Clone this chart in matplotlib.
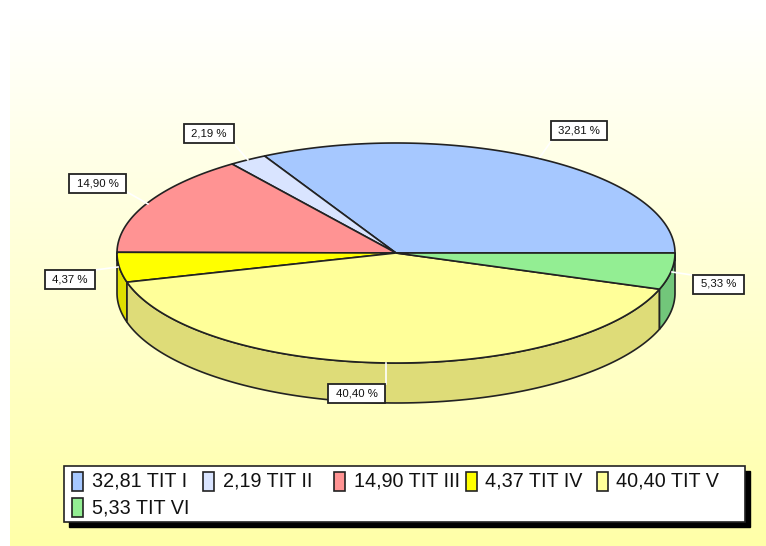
import numpy as np
import matplotlib
matplotlib.use("Agg")
import matplotlib.pyplot as plt
from matplotlib.patches import Polygon, Rectangle
from matplotlib.colors import LinearSegmentedColormap

# ---- data
names = ["TIT I", "TIT II", "TIT III", "TIT IV", "TIT V", "TIT VI"]
values = [32.81, 2.19, 14.90, 4.37, 40.40, 5.33]
value_labels = ["32,81", "2,19", "14,90", "4,37", "40,40", "5,33"]
top_colors = ["#A6C8FF", "#D9E4FF", "#FF9393", "#FFFF00", "#FFFF99", "#93EE93"]
side_colors = ["#8AA6D4", "#B5BED4", "#D47A7A", "#DEDE00", "#DEDC78", "#72C67A"]

# ---- layout (pixels)
W, H = 766, 546
cx, cy, rx, ry, depth = 396, 253, 279, 110, 40
label_pos = [(579, 130.5), (209, 133.5), (97.5, 183.5), (70, 279.5), (356.5, 393.5), (718.5, 284)]
label_w = [56, 50, 57, 50, 57, 51]
label_h = 19
leader_start = [(552, 140), (235, 145), (127, 192), (95, 270), (386, 384), (692, 275)]
leader_end = [(540, 157), (248, 160), (148, 204), (118, 267), (386, 363), (672, 272)]
EDGE = "#222222"

fig = plt.figure(figsize=(W / 100, H / 100), dpi=100)
fig.patch.set_facecolor("white")
ax = fig.add_axes([0, 0, 1, 1])
ax.set_xlim(0, W)
ax.set_ylim(H, 0)
ax.axis("off")

# background gradient panel
cmap = LinearSegmentedColormap.from_list("bg", ["#FFFFFF", "#FFFFA8"])
grad = np.linspace(0, 1, 256).reshape(-1, 1)
ax.imshow(grad, extent=[10, W, H, 12], cmap=cmap, aspect="auto", zorder=0)
ax.set_xlim(0, W)
ax.set_ylim(H, 0)


def ell(t, dy=0.0):
    return np.column_stack([cx + rx * np.cos(t), cy - ry * np.sin(t) + dy])


edges = np.radians(np.concatenate([[0], np.cumsum(values)]) * 3.6)

# side wall: front half only, drawn from the rim
for i in range(len(values)):
    a = max(edges[i], np.pi)
    b = min(edges[i + 1], 2 * np.pi)
    if b > a:
        t = np.linspace(a, b, 120)
        pts = np.vstack([ell(t), ell(t[::-1], depth)])
        ax.add_patch(Polygon(pts, closed=True, fc=side_colors[i], ec=EDGE, lw=1.2, zorder=2))

# top faces
for i in range(len(values)):
    t = np.linspace(edges[i], edges[i + 1], 200)
    pts = np.vstack([[cx, cy], ell(t)])
    ax.add_patch(Polygon(pts, closed=True, fc=top_colors[i], ec=EDGE, lw=1.2, zorder=3))

# leader lines and labels
for i, v in enumerate(value_labels):
    ax.plot([leader_start[i][0], leader_end[i][0]], [leader_start[i][1], leader_end[i][1]],
            color="white", lw=1.2, zorder=4)
    bx, by = label_pos[i]
    ax.add_patch(Rectangle((bx - label_w[i] / 2, by - label_h / 2), label_w[i], label_h,
                           fc="white", ec="#222222", lw=1.3, zorder=5))
    ax.text(bx, by, v + " %", fontsize=8.2, family="Liberation Sans",
            ha="center", va="center", color="#111111", zorder=6)

# legend
lx0, ly0, lx1, ly1 = 64, 466, 745, 522
ax.add_patch(Rectangle((lx0 + 5, ly0 + 5), lx1 - lx0, ly1 - ly0, fc="black", ec="black", zorder=6))
ax.add_patch(Rectangle((lx0, ly0), lx1 - lx0, ly1 - ly0, fc="white", ec="#222222", lw=1.2, zorder=7))
col_w, row_h = 131.2, 26.3
for i, (n, v) in enumerate(zip(names, value_labels)):
    col, row = i % 5, i // 5
    x = lx0 + 8 + col * col_w
    y = ly0 + 15.3 + row * row_h
    ax.add_patch(Rectangle((x, y - 9.5), 11, 19, fc=top_colors[i], ec="#222222", lw=1.2, zorder=8))
    ax.text(x + 19.5, y, f"{v} {n}", fontsize=14.2, family="Liberation Sans", va="center",
            color="#111111", zorder=8)

fig.savefig("out.png", dpi=100)
